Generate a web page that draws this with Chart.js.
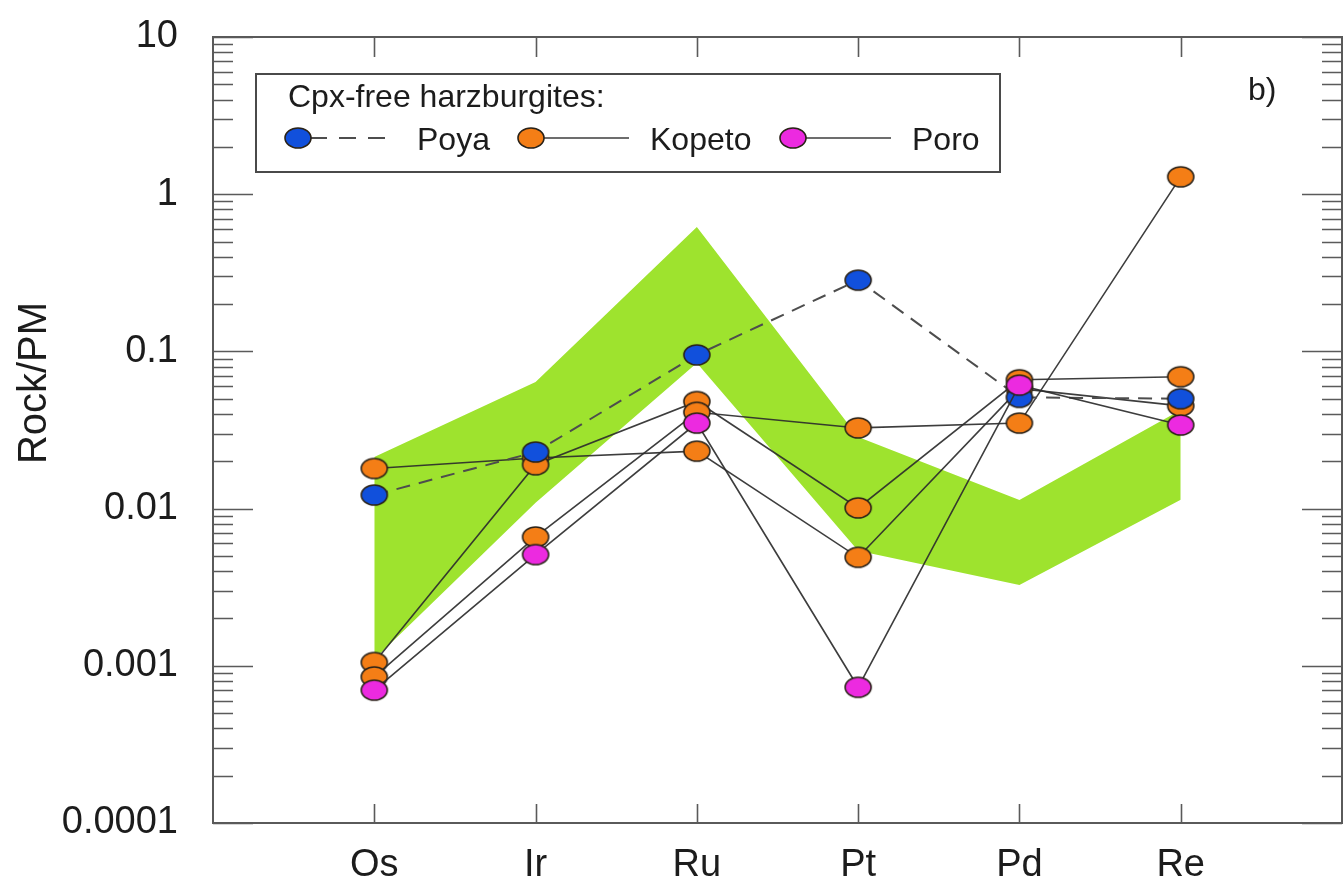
<!DOCTYPE html>
<html>
<head>
<meta charset="utf-8">
<title>Rock/PM – Cpx-free harzburgites</title>
<script src="https://cdn.jsdelivr.net/npm/chart.js@4.4.1/dist/chart.umd.min.js"></script>
<style>
  html, body { margin: 0; padding: 0; background: #ffffff; }
  canvas { display: block; }
</style>
</head>
<body>
<canvas id="pgeChart" width="1343" height="886"></canvas>
<script>
// Elements on the x axis
const categories = ['Os', 'Ir', 'Ru', 'Pt', 'Pd', 'Re'];

// Log-axis decade ticks and their labels
const decadeTicks = [0.0001, 0.001, 0.01, 0.1, 1, 10];
const decadeLabels = ['0.0001', '0.001', '0.01', '0.1', '1', '10'];

// Poya harzburgite (dashed)
const poya = [0.0122, 0.0229, 0.095, 0.284, 0.051, 0.050];

// Kopeto harzburgites
const kopeto1 = [0.018, 0.021, 0.0232, 0.0049, 0.058, 0.045];
const kopeto2 = [0.00105, 0.019, 0.048, 0.0101, 0.066, 0.069];
const kopeto3 = [0.00085, 0.0066, 0.041, 0.0326, 0.035, 1.29];

// Poro harzburgite
const poro = [0.0007, 0.0051, 0.035, 0.00073, 0.061, 0.034];

// Shaded reference field (upper and lower limits)
const fieldUpper = [0.0213, 0.0638, 0.618, 0.0285, 0.01135, 0.0424];
const fieldLower = [0.0011, 0.0109, 0.0844, 0.0054, 0.00327, 0.0114];

const FONT = "'Liberation Sans', Arial, Helvetica, sans-serif";
const TEXT = '#1c1c1c';
const AXIS = '#5a5a5a';
const BLUE = '#1150dc';
const ORANGE = '#f47e16';
const MAGENTA = '#ec2ae0';
const FIELD = '#9ee32e';

// Elliptical marker sprite used as point style
function ellipseMarker(fill) {
  const c = document.createElement('canvas');
  c.width = 30; c.height = 24;
  const g = c.getContext('2d');
  g.beginPath();
  g.ellipse(15, 12, 13, 10, 0, 0, Math.PI * 2);
  g.fillStyle = fill;
  g.fill();
  g.lineWidth = 1.6;
  g.strokeStyle = '#2a2218';
  g.stroke();
  return c;
}
const markBlue = ellipseMarker(BLUE);
const markOrange = ellipseMarker(ORANGE);
const markMagenta = ellipseMarker(MAGENTA);

const pts = arr => arr.map((v, i) => ({ x: i, y: v }));

function sample(arr, marker, opts) {
  return Object.assign({
    type: 'line',
    data: pts(arr),
    borderColor: 'rgba(45,45,45,0.92)',
    borderWidth: 1.6,
    pointStyle: marker,
    pointRadius: 11,
    fill: false,
    tension: 0
  }, opts || {});
}

const datasets = [
  sample(poro, markMagenta, { label: 'Poro', order: 1 }),
  sample(poya, markBlue, { label: 'Poya', order: 2, borderDash: [14, 9], borderColor: '#4d4d4d', borderWidth: 2 }),
  sample(kopeto3, markOrange, { label: 'Kopeto', order: 3 }),
  sample(kopeto2, markOrange, { label: 'Kopeto', order: 4 }),
  sample(kopeto1, markOrange, { label: 'Kopeto', order: 5 }),
  {
    type: 'line', label: 'field-upper', data: pts(fieldUpper),
    borderColor: 'rgba(0,0,0,0)', borderWidth: 0, pointRadius: 0,
    backgroundColor: FIELD, fill: '+1', order: 9, tension: 0
  },
  {
    type: 'line', label: 'field-lower', data: pts(fieldLower),
    borderColor: 'rgba(0,0,0,0)', borderWidth: 0, pointRadius: 0,
    fill: false, order: 10, tension: 0
  }
];

// Plot frame with inward ticks on all four sides
const framePlugin = {
  id: 'frame',
  afterDatasetsDraw(chart) {
    const { ctx, chartArea: a, scales: { x, y } } = chart;
    ctx.save();
    ctx.strokeStyle = AXIS;
    ctx.lineWidth = 2;
    ctx.strokeRect(a.left, a.top, a.right - a.left, a.bottom - a.top);
    ctx.lineWidth = 1.6;
    ctx.beginPath();
    for (let e = -4; e <= 1; e++) {
      for (let m = 1; m <= 9; m++) {
        const v = m * Math.pow(10, e);
        if (v > 10.001) break;
        const py = Math.round(y.getPixelForValue(v)) + 0.5;
        const len = m === 1 ? 40 : 20;
        ctx.moveTo(a.left, py); ctx.lineTo(a.left + len, py);
        ctx.moveTo(a.right, py); ctx.lineTo(a.right - len, py);
      }
    }
    categories.forEach((c, i) => {
      const px = Math.round(x.getPixelForValue(i)) + 0.5;
      ctx.moveTo(px, a.bottom); ctx.lineTo(px, a.bottom - 19);
      ctx.moveTo(px, a.top); ctx.lineTo(px, a.top + 20);
    });
    ctx.stroke();
    ctx.restore();
  }
};

// Boxed legend, panel tag and rotated y title
const annotatePlugin = {
  id: 'annotate',
  afterDraw(chart) {
    const { ctx, chartArea: a } = chart;
    ctx.save();

    // y-axis title
    ctx.save();
    ctx.translate(35, 383);
    ctx.rotate(-Math.PI / 2);
    ctx.font = `40px ${FONT}`;
    ctx.fillStyle = TEXT;
    ctx.textAlign = 'center';
    ctx.textBaseline = 'middle';
    ctx.fillText('Rock/PM', 0, 0);
    ctx.restore();

    // panel tag
    ctx.font = `32px ${FONT}`;
    ctx.fillStyle = TEXT;
    ctx.textAlign = 'left';
    ctx.textBaseline = 'alphabetic';
    ctx.fillText('b)', 1248, 100);

    // legend box
    const bx = a.left + 43, by = 74, bw = 744, bh = 98;
    ctx.fillStyle = '#ffffff';
    ctx.fillRect(bx, by, bw, bh);
    ctx.strokeStyle = '#4a4a4a';
    ctx.lineWidth = 2;
    ctx.strokeRect(bx, by, bw, bh);

    ctx.font = `32px ${FONT}`;
    ctx.fillStyle = TEXT;
    ctx.fillText('Cpx-free harzburgites:', bx + 32, 107);

    const rowY = 138;
    const entries = [
      { marker: markBlue, x: bx + 42, dash: [17, 12], color: '#4d4d4d', width: 2, label: 'Poya', tx: bx + 161 },
      { marker: markOrange, x: bx + 275, dash: [], color: 'rgba(45,45,45,0.92)', width: 1.6, label: 'Kopeto', tx: bx + 394 },
      { marker: markMagenta, x: bx + 537, dash: [], color: 'rgba(45,45,45,0.92)', width: 1.6, label: 'Poro', tx: bx + 656 }
    ];
    entries.forEach(en => {
      ctx.save();
      ctx.beginPath();
      ctx.setLineDash(en.dash);
      ctx.strokeStyle = en.color;
      ctx.lineWidth = en.width;
      ctx.moveTo(en.x + 12, rowY);
      ctx.lineTo(en.x + 98, rowY);
      ctx.stroke();
      ctx.restore();
      ctx.drawImage(en.marker, en.x - en.marker.width / 2, rowY - en.marker.height / 2);
      ctx.fillStyle = TEXT;
      ctx.fillText(en.label, en.tx, 150);
    });
    ctx.restore();
  }
};

new Chart(document.getElementById('pgeChart'), {
  type: 'line',
  data: { datasets },
  options: {
    responsive: false,
    animation: false,
    events: [],
    devicePixelRatio: 1,
    layout: { autoPadding: false, padding: { top: 37, right: 1, left: 0, bottom: 0 } },
    plugins: {
      legend: { display: false },
      tooltip: { enabled: false }
    },
    scales: {
      x: {
        type: 'linear',
        min: -1,
        max: 6,
        afterBuildTicks: s => { s.ticks = categories.map((c, i) => ({ value: i })); },
        afterFit: s => { s.height = 63; s.paddingLeft = 0; s.paddingRight = 0; },
        grid: { display: false, drawTicks: false },
        border: { display: false },
        ticks: {
          autoSkip: false,
          maxRotation: 0,
          padding: 20,
          color: TEXT,
          font: { size: 38, family: FONT },
          callback: (v, i) => categories[i]
        }
      },
      y: {
        type: 'logarithmic',
        min: 0.0001,
        max: 10,
        afterBuildTicks: s => { s.ticks = decadeTicks.map(v => ({ value: v })); },
        afterFit: s => { s.width = 213; s.paddingTop = 0; s.paddingBottom = 0; },
        grid: { display: false, drawTicks: false },
        border: { display: false },
        ticks: {
          autoSkip: false,
          padding: 35,
          color: TEXT,
          font: { size: 38, family: FONT },
          callback: (v, i) => decadeLabels[i]
        }
      }
    }
  },
  plugins: [framePlugin, annotatePlugin]
});
</script>
</body>
</html>
